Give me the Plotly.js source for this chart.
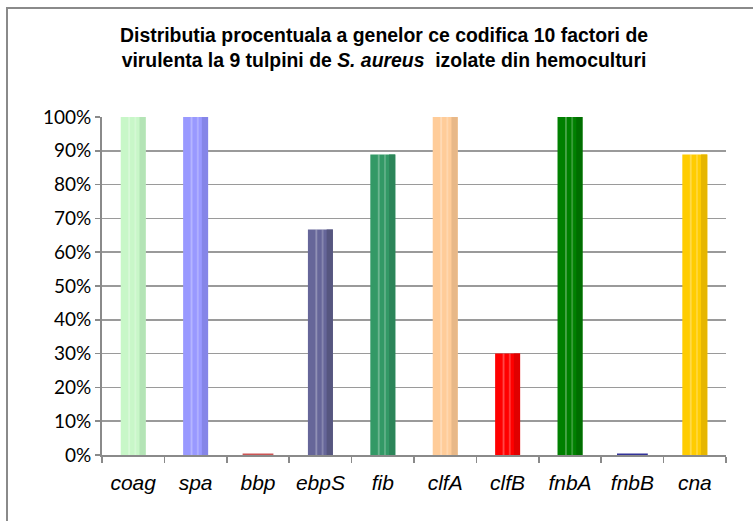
<!DOCTYPE html>
<html>
<head>
<meta charset="utf-8">
<script src="https://cdn.plot.ly/plotly-3.0.1.min.js"></script>
<style>
  html, body { margin: 0; padding: 0; background: #ffffff; overflow: hidden; }
  #frame { position: absolute; left: 6px; top: 7px; width: 900px; height: 700px;
           border-top: 2px solid #8a8a8a; border-left: 2px solid #8a8a8a; }
  #chart { position: absolute; left: 0; top: 0; width: 753px; height: 521px; }
</style>
</head>
<body>
<div id="frame"></div>
<div id="chart"></div>
<script>
// ---- data ----
var genes = ['coag', 'spa', 'bbp', 'ebpS', 'fib', 'clfA', 'clfB', 'fnbA', 'fnbB', 'cna'];
var percentValues = [100, 100, 0, 66.7, 88.9, 100, 30, 100, 0, 88.9];
var yTickValues = [0, 10, 20, 30, 40, 50, 60, 70, 80, 90, 100];
var yTickLabels = ['0%', '10%', '20%', '30%', '40%', '50%', '60%', '70%', '80%', '90%', '100%'];
var barColors  = ['#c8f7c8', '#9999ff', '#cc5555', '#666699', '#339966', '#ffcc99', '#ff0000', '#008000', '#333399', '#ffcc00'];
var shadeColors = ['#b4e4b6', '#8585e8', '#b04040', '#56567f', '#2c8559', '#e8b888', '#e00000', '#006e00', '#2a2a80', '#e6b600'];

var catLabels = genes.map(function (g) { return '<i>' + g + '</i>'; });

// zero-valued genes shown as a flat disc at the base
var zeroX = [], zeroC = [], zeroY = [];
percentValues.forEach(function (v, i) {
  if (v === 0) { zeroX.push(genes[i]); zeroY.push(v); zeroC.push(barColors[i]); }
});

var traces = [
  { type: 'bar', x: genes, y: percentValues, width: 0.4,
    marker: { color: barColors, line: { width: 0 } }, hoverinfo: 'x+y' },
  { type: 'bar', x: genes, y: percentValues, width: 0.1, offset: 0.1,
    marker: { color: shadeColors, line: { width: 0 } }, hoverinfo: 'skip' },
  { type: 'bar', x: genes, y: percentValues, width: 0.03, offset: -0.08,
    marker: { color: 'rgba(255,255,255,0.28)', line: { width: 0 } }, hoverinfo: 'skip' },
  { type: 'bar', x: genes, y: percentValues, width: 0.03, offset: 0.02,
    marker: { color: 'rgba(255,255,255,0.22)', line: { width: 0 } }, hoverinfo: 'skip' },
  { type: 'scatter', mode: 'markers', x: zeroX, y: zeroY, cliponaxis: false,
    marker: { symbol: 'line-ew', size: 22, color: zeroC, line: { color: zeroC, width: 3 } },
    hoverinfo: 'skip' }
];

var layout = {
  width: 753, height: 521,
  paper_bgcolor: 'rgba(0,0,0,0)',
  plot_bgcolor: 'rgba(0,0,0,0)',
  showlegend: false,
  barmode: 'overlay',
  margin: { l: 102, r: 27, t: 117, b: 66 },
  title: {
    text: 'Distributia procentuala a genelor ce codifica 10 factori de<br>virulenta la 9 tulpini de <i>S. aureus</i>  izolate din hemoculturi',
    font: { family: '"Liberation Sans", Arial, sans-serif', size: 19.4, color: '#000000', weight: 'bold' },
    x: 0.51, xanchor: 'center', xref: 'container',
    y: 0.92, yanchor: 'top', yref: 'container'
  },
  xaxis: {
    type: 'category',
    range: [-0.5, 9.5],
    tickmode: 'array', tickvals: genes, ticktext: catLabels,
    tickson: 'boundaries',
    ticks: 'outside', ticklen: 6, tickcolor: '#8a8a8a', tickwidth: 1.5,
    showline: true, linecolor: '#8a8a8a', linewidth: 2,
    showgrid: false, zeroline: false,
    tickfont: { family: '"Liberation Sans", Arial, sans-serif', size: 21, color: '#000000' },
    ticklabelstandoff: 8
  },
  yaxis: {
    range: [0, 100],
    tickmode: 'array', tickvals: yTickValues, ticktext: yTickLabels,
    ticks: 'outside', ticklen: 5, tickcolor: '#8a8a8a', tickwidth: 1.5,
    showline: true, linecolor: '#8a8a8a', linewidth: 2,
    showgrid: true, gridcolor: '#9a9a9a', gridwidth: 1.5,
    zeroline: false,
    tickfont: { family: 'Lato, "Open Sans", sans-serif', size: 19, color: '#000000' }
  }
};

Plotly.newPlot('chart', traces, layout, { displayModeBar: false, staticPlot: true });
</script>
</body>
</html>
